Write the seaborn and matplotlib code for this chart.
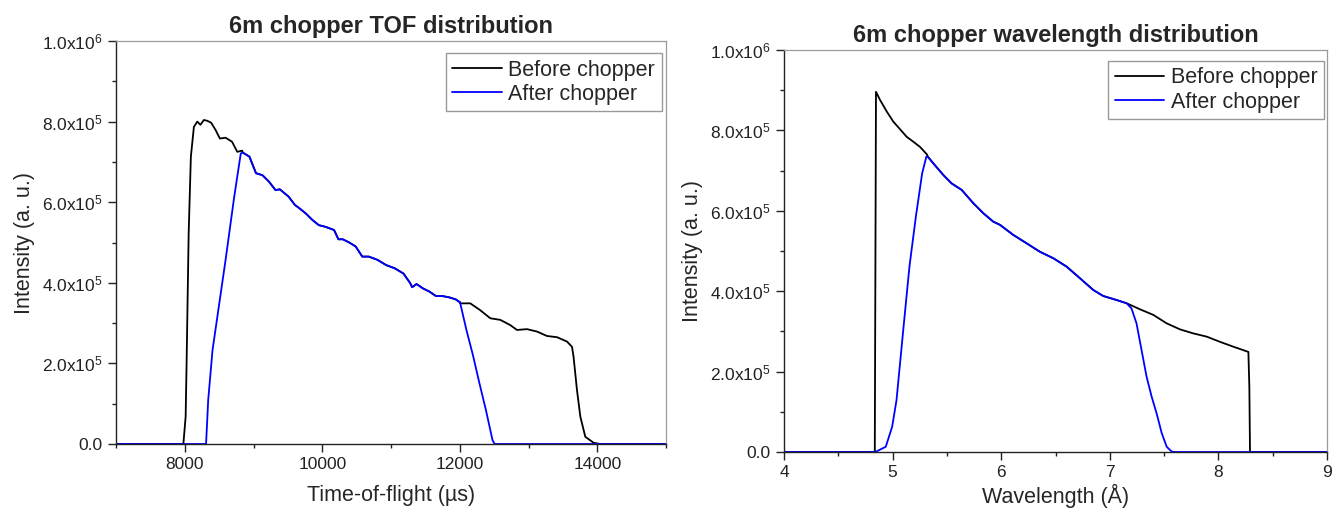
import numpy as np
import pandas as pd
import seaborn as sns
import matplotlib
matplotlib.use("Agg")
import matplotlib.pyplot as plt
from matplotlib.ticker import MultipleLocator, FixedLocator, FixedFormatter

# ---- TOF panel data ----
tof_before_x = [7000, 7980, 8013, 8026, 8057, 8089, 8133, 8183, 8228, 8278, 8329, 8385,
                8449, 8511, 8594, 8688, 8764, 8834]
tof_before_y = [0, 0, 68e3, 192e3, 523e3, 713e3, 787e3, 800e3, 792e3, 804e3, 802e3, 797e3,
                779e3, 758e3, 760e3, 750e3, 725e3, 728e3]
tof_shared_x = [8846, 8941, 9036, 9130, 9225, 9320, 9383, 9509, 9604, 9667, 9761, 9856,
                9951, 10045, 10172, 10235, 10298, 10393, 10487, 10582, 10677, 10803,
                10929, 11055, 11181, 11276, 11308, 11371, 11466, 11560, 11655, 11750,
                11844, 11939, 11990]
tof_shared_y = [723e3, 713e3, 672e3, 667e3, 651e3, 630e3, 632e3, 614e3, 593e3, 585e3,
                572e3, 556e3, 543e3, 539e3, 531e3, 508e3, 508e3, 500e3, 490e3, 465e3,
                465e3, 457e3, 444e3, 436e3, 423e3, 400e3, 389e3, 397e3, 386e3, 378e3,
                367e3, 367e3, 364e3, 359e3, 353e3]
tof_tail_x = [12007, 12153, 12298, 12444, 12590, 12735, 12832, 12978, 13124, 13269, 13415,
              13561, 13633, 13655, 13705, 13754, 13826, 13947, 14045, 15000]
tof_tail_y = [349e3, 349e3, 332e3, 312e3, 308e3, 295e3, 283e3, 285e3, 279e3, 268e3, 265e3,
              254e3, 241e3, 217e3, 134e3, 68e3, 18e3, 3e3, 0, 0]
tof_after_rise_x = [7000, 8310, 8341, 8404, 8594, 8720, 8815]
tof_after_rise_y = [0, 0, 109e3, 233e3, 457e3, 614e3, 721e3]
tof_after_fall_x = [12002, 12097, 12191, 12286, 12381, 12476, 12507, 15000]
tof_after_fall_y = [353e3, 283e3, 221e3, 151e3, 84e3, 10e3, 0, 0]

# ---- wavelength panel data ----
wl_before_x = [4.0, 4.836, 4.847, 4.884, 4.946, 5.006, 5.068, 5.13, 5.19, 5.252, 5.314]
wl_before_y = [0, 0, 896e3, 876e3, 847e3, 822e3, 803e3, 784e3, 772e3, 759e3, 741e3]
wl_shared_x = [5.329, 5.375, 5.467, 5.544, 5.636, 5.743, 5.835, 5.927, 5.989, 6.111, 6.235,
               6.357, 6.48, 6.603, 6.726, 6.848, 6.94, 7.063, 7.155]
wl_shared_y = [733e3, 718e3, 689e3, 668e3, 652e3, 619e3, 594e3, 573e3, 565e3, 540e3, 519e3,
               498e3, 482e3, 461e3, 432e3, 403e3, 388e3, 378e3, 370e3]
wl_tail_x = [7.278, 7.401, 7.524, 7.647, 7.769, 7.892, 8.015, 8.137, 8.276, 8.285, 8.291, 9.0]
wl_tail_y = [355e3, 341e3, 320e3, 305e3, 295e3, 287e3, 274e3, 262e3, 249e3, 162e3, 0, 0]
wl_after_rise_x = [4.0, 4.84, 4.937, 4.996, 5.036, 5.095, 5.155, 5.214, 5.272, 5.311]
wl_after_rise_y = [0, 0, 13e3, 63e3, 129e3, 295e3, 461e3, 585e3, 693e3, 735e3]
wl_after_fall_x = [7.2, 7.246, 7.292, 7.339, 7.385, 7.431, 7.478, 7.524, 7.57, 7.6, 9.0]
wl_after_fall_y = [357e3, 320e3, 254e3, 187e3, 138e3, 96e3, 47e3, 13e3, 1e3, 0, 0]

series_names = ["Before chopper", "After chopper"]
y_ticks = [0, 2e5, 4e5, 6e5, 8e5, 1e6]
y_tick_labels = ["0.0", "2.0x10$^{5}$", "4.0x10$^{5}$", "6.0x10$^{5}$", "8.0x10$^{5}$",
                 "1.0x10$^{6}$"]


def make_frame(before_parts, after_parts):
    bx = sum([p[0] for p in before_parts], [])
    by = sum([p[1] for p in before_parts], [])
    ax_ = sum([p[0] for p in after_parts], [])
    ay = sum([p[1] for p in after_parts], [])
    return pd.DataFrame({
        "x": bx + ax_,
        "y": by + ay,
        "series": [series_names[0]] * len(bx) + [series_names[1]] * len(ax_),
    })


tof_df = make_frame(
    [(tof_before_x, tof_before_y), (tof_shared_x, tof_shared_y), (tof_tail_x, tof_tail_y)],
    [(tof_after_rise_x, tof_after_rise_y), (tof_shared_x, tof_shared_y),
     (tof_after_fall_x, tof_after_fall_y)])
wl_df = make_frame(
    [(wl_before_x, wl_before_y), (wl_shared_x, wl_shared_y), (wl_tail_x, wl_tail_y)],
    [(wl_after_rise_x, wl_after_rise_y), (wl_shared_x, wl_shared_y),
     (wl_after_fall_x, wl_after_fall_y)])

sns.set_style("ticks")
plt.rcParams["font.family"] = ["Liberation Sans", "DejaVu Sans"]
plt.rcParams["mathtext.fontset"] = "custom"
plt.rcParams["mathtext.rm"] = "Liberation Sans"
plt.rcParams["mathtext.it"] = "Liberation Sans:italic"
plt.rcParams["mathtext.bf"] = "Liberation Sans:bold"

fig = plt.figure(figsize=(13.4, 5.12), dpi=100)
ax1 = fig.add_axes([116 / 1340, 68 / 512, 550 / 1340, 403 / 512])
ax2 = fig.add_axes([784 / 1340, 60 / 512, 543 / 1340, 402 / 512])

palette = {series_names[0]: "black", series_names[1]: "#0000ff"}


def style_axes(ax, df, xlim, xmajor, xminor, title, xlabel, xpad, leg_anchor):
    sns.lineplot(data=df, x="x", y="y", hue="series", hue_order=series_names,
                 palette=palette, estimator=None, sort=False, linewidth=1.3, ax=ax)
    ax.set_xlim(*xlim)
    ax.set_ylim(0, 1e6)
    ax.xaxis.set_major_locator(MultipleLocator(xmajor))
    ax.xaxis.set_minor_locator(MultipleLocator(xminor))
    ax.yaxis.set_major_locator(FixedLocator(y_ticks))
    ax.yaxis.set_major_formatter(FixedFormatter(y_tick_labels))
    ax.yaxis.set_minor_locator(MultipleLocator(1e5))
    ax.tick_params(which="major", direction="out", length=6, width=1, labelsize=12.5,
                   colors="#222222")
    ax.tick_params(which="minor", direction="out", length=3, width=1, colors="#222222")
    for s in ["left", "bottom"]:
        ax.spines[s].set_color("#222222")
        ax.spines[s].set_linewidth(1.0)
    for s in ["top", "right"]:
        ax.spines[s].set_color("#9a9a9a")
        ax.spines[s].set_linewidth(0.9)
    ax.set_title(title, fontsize=17, fontweight="bold", pad=6)
    ax.set_xlabel(xlabel, fontsize=15.5, labelpad=xpad)
    ax.set_ylabel("Intensity (a. u.)", fontsize=15.5, labelpad=5)
    leg = ax.legend(loc="upper right", bbox_to_anchor=leg_anchor, fontsize=15.5,
                    frameon=True, fancybox=False, handlelength=2.3, handletextpad=0.3,
                    borderpad=0.3, labelspacing=0.15, borderaxespad=0)
    leg.get_frame().set_edgecolor("#808080")
    leg.get_frame().set_linewidth(1.0)


style_axes(ax1, tof_df, (7000, 15000), 2000, 1000, "6m chopper TOF distribution",
           "Time-of-flight (\u00b5s)", 9, (0.992, 0.97))
style_axes(ax2, wl_df, (4, 9), 1, 0.5, "6m chopper wavelength distribution",
           "Wavelength (\u00c5)", 3, (0.994, 0.973))

fig.savefig("out.png", dpi=100)
